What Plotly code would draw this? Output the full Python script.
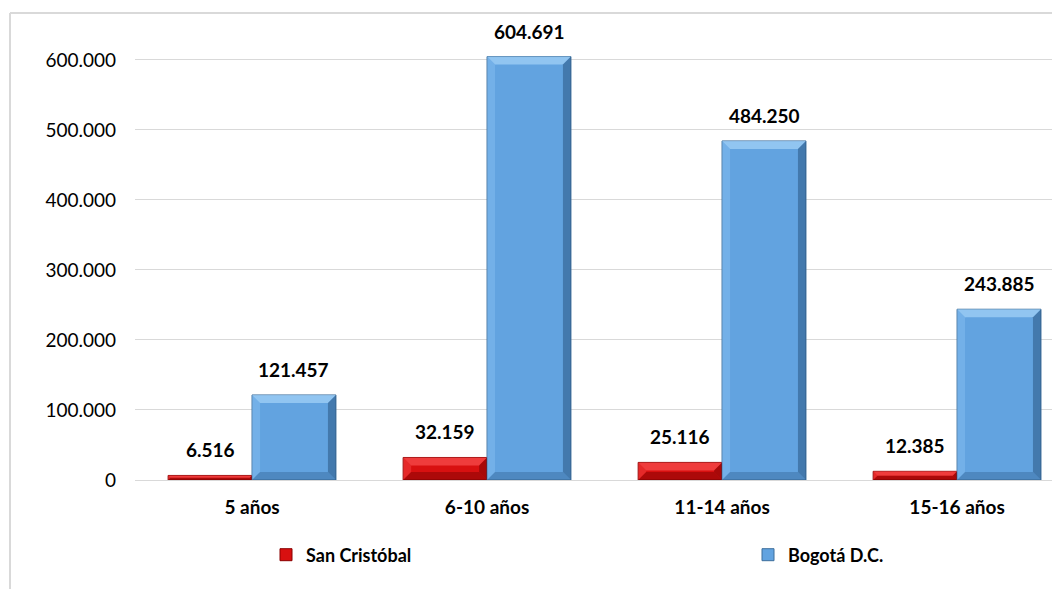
import plotly.graph_objects as go

categories = ["5 años", "6-10 años", "11-14 años", "15-16 años"]
san_cristobal = [6516, 32159, 25116, 12385]
bogota = [121457, 604691, 484250, 243885]
series_names = ["San Cristóbal", "Bogotá D.C."]
y_tickvals = [0, 100000, 200000, 300000, 400000, 500000, 600000]
y_ticktext = ["0", "100.000", "200.000", "300.000", "400.000", "500.000", "600.000"]

# page body has an 8px margin, positions below are figure pixels
W, H = 1060, 589
ML, MR, MT, MB = 127, 0, 12, 117
PW, PH = W - ML - MR, H - MT - MB
XR = [-0.498, 3.472]
YR = [0, 657000]
px_x = PW / (XR[1] - XR[0])
px_y = PH / (YR[1] - YR[0])

BAR_W = 0.357
FONT = "Lato"

def fmt(v):
    return f"{v:,}".replace(",", ".")

idx = list(range(len(categories)))
red_x = [i - BAR_W / 2 for i in idx]
blue_x = [i + BAR_W / 2 for i in idx]

fig = go.Figure()
fig.add_trace(go.Bar(x=red_x, y=san_cristobal, width=BAR_W, name=series_names[0], legend="legend",
                     marker=dict(color="#D81010", line=dict(color="#8A0000", width=1))))
fig.add_trace(go.Bar(x=blue_x, y=bogota, width=BAR_W, name=series_names[1], legend="legend2",
                     marker=dict(color="#62A3E0", line=dict(color="#3D6E9C", width=1))))

shapes = []
# bevel effect computed from the data
def bevel(xc, v, light, lighter, dark, darker):
    x0, x1 = xc - BAR_W / 2, xc + BAR_W / 2
    hpx = v * px_y
    d = min(8, hpx / 2)
    dx, dy = d / px_x, d / px_y
    top = f"M{x0},{v} L{x1},{v} L{x1-dx},{v-dy} L{x0+dx},{v-dy} Z"
    left = f"M{x0},{v} L{x0+dx},{v-dy} L{x0+dx},{dy} L{x0},0 Z"
    right = f"M{x1},{v} L{x1},0 L{x1-dx},{dy} L{x1-dx},{v-dy} Z"
    bottom = f"M{x0},0 L{x1},0 L{x1-dx},{dy} L{x0+dx},{dy} Z"
    out = []
    for p, c in ((top, lighter), (left, light), (right, darker), (bottom, dark)):
        out.append(dict(type="path", path=p, xref="x", yref="y", fillcolor=c,
                        line=dict(width=0), layer="above"))
    return out

for xc, v in zip(red_x, san_cristobal):
    shapes += bevel(xc, v, "rgba(255,90,90,0.35)", "rgba(255,90,90,0.6)",
                    "rgba(100,0,0,0.38)", "rgba(100,0,0,0.42)")
for xc, v in zip(blue_x, bogota):
    shapes += bevel(xc, v, "rgba(150,200,245,0.35)", "rgba(170,215,250,0.65)",
                    "rgba(30,70,110,0.28)", "rgba(30,70,110,0.45)")

def px2paper_x(p):
    return (p - ML) / PW
def px2paper_y(p):
    return (H - MB - p) / PH

# chart border (top and left visible)
shapes.append(dict(type="line", xref="paper", yref="paper",
                   x0=px2paper_x(2), x1=px2paper_x(1070), y0=px2paper_y(5), y1=px2paper_y(5),
                   line=dict(color="#D9D9D9", width=2)))
shapes.append(dict(type="line", xref="paper", yref="paper",
                   x0=px2paper_x(2), x1=px2paper_x(2), y0=px2paper_y(5), y1=px2paper_y(600),
                   line=dict(color="#D9D9D9", width=2)))

annotations = []
for xs, ys in ((red_x, san_cristobal), (blue_x, bogota)):
    for xc, v in zip(xs, ys):
        annotations.append(dict(x=xc, y=v, xref="x", yref="y", text=fmt(v), showarrow=False,
                                yanchor="bottom", yshift=12,
                                font=dict(family=FONT, size=19, color="#000000", weight="bold")))

legend_font = dict(family=FONT, size=18, color="#000000", weight="bold")
fig.update_layout(
    width=W, height=H,
    margin=dict(l=ML, r=MR, t=MT, b=MB, autoexpand=False),
    paper_bgcolor="white", plot_bgcolor="white",
    barmode="overlay",
    showlegend=True,
    legend=dict(orientation="h", x=px2paper_x(258), xanchor="left", y=px2paper_y(547), yanchor="middle",
                font=legend_font, itemwidth=30, bgcolor="rgba(0,0,0,0)"),
    legend2=dict(orientation="h", x=px2paper_x(740), xanchor="left", y=px2paper_y(547), yanchor="middle",
                 font=legend_font, itemwidth=30, bgcolor="rgba(0,0,0,0)"),
    xaxis=dict(range=XR, tickmode="array", tickvals=idx, ticktext=categories,
               showgrid=False, zeroline=False, showline=False, ticks="",
               tickfont=dict(family=FONT, size=19, color="#000000", weight="bold"),
               ticklabelstandoff=14),
    yaxis=dict(range=YR, tickmode="array", tickvals=y_tickvals, ticktext=y_ticktext,
               showgrid=True, gridcolor="#D9D9D9", gridwidth=1,
               zeroline=True, zerolinecolor="#D9D9D9", zerolinewidth=1,
               showline=False, ticks="", ticklabelstandoff=18,
               tickfont=dict(family=FONT, size=19, color="#000000")),
    shapes=shapes,
    annotations=annotations,
    font=dict(family=FONT),
)

fig.write_html("out.html")
